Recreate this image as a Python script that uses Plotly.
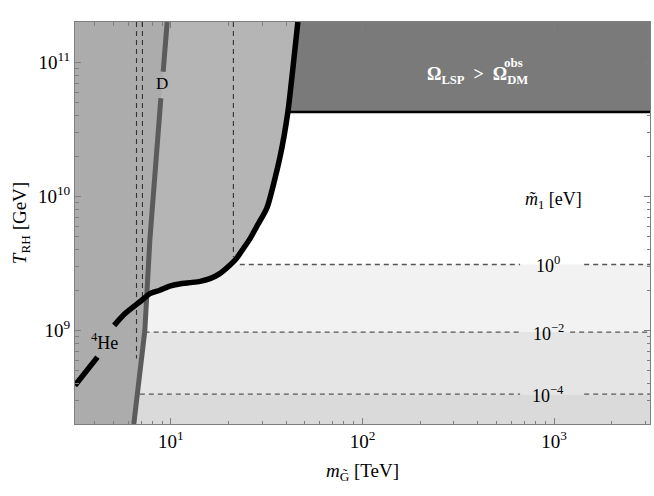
import numpy as np
import plotly.graph_objects as go

# ---------------- data ----------------
# thick black curve (gravitino bound), m in TeV, T in GeV
curve_m = [3.16, 4.14, 5.06, 5.75, 7.03, 7.77, 8.76, 9.88, 11.1, 12.6, 14.2, 16.0,
           18.0, 20.3, 22.0, 23.9, 25.9, 28.0, 31.7, 37.1, 40.8, 43.4, 46.0]
curve_T = [3.88e8, 6.31e8, 1.09e9, 1.33e9, 1.67e9, 1.88e9, 1.99e9, 2.14e9, 2.22e9,
           2.27e9, 2.32e9, 2.43e9, 2.65e9, 3.06e9, 3.44e9, 4.08e9, 4.84e9, 5.92e9,
           8.17e9, 1.96e10, 4.26e10, 9.2e10, 2.0e11]
curve_gap_after = 1          # label "4He" interrupts the curve after this point

# deuterium (D) line
d_m = [6.41, 7.32, 7.77, 8.58, 8.87, 9.12, 9.57]
d_T = [2.0e8, 1.0e9, 4.70e9, 2.86e10, 5.39e10, 8.51e10, 2.0e11]
d_gap_after = 4

# relic density bound
omega_T = 4.26e10
omega_m_start = 40.8

# m1-tilde contours: values [eV], horizontal level T, start m, vertical line m & bottom T
m1_labels = ["10<sup>0</sup>", "10<sup>−2</sup>", "10<sup>−4</sup>"]
m1_T = [3.1e9, 9.7e8, 3.34e8]
m1_hstart = [22.9, 7.3, 6.89]
m1_gap = [(664, 1434), (681, 1212), (664, 1434)]
vert_m = [6.62, 7.11, 21.2]
vert_Tbottom = [6.17e8, 1.73e9, 3.52e9]

x_tickvals = [10, 100, 1000]
x_ticktext = ["10<sup>1</sup>", "10<sup>2</sup>", "10<sup>3</sup>"]
y_tickvals = [1e9, 1e10, 1e11]
y_ticktext = ["10<sup>9</sup>", "10<sup>10</sup>", "10<sup>11</sup>"]

XMIN, XMAX = 10 ** 0.5, 10 ** 3.5
YMIN, YMAX = 2e8, 2e11

FONT = "Liberation Serif"
fig = go.Figure()


def poly(xs, ys, color):
    fig.add_trace(go.Scatter(x=xs, y=ys, mode="lines", fill="toself",
                             fillcolor=color, line=dict(width=0, color=color),
                             hoverinfo="skip", showlegend=False))


# bands (light greys)
band_bounds = [YMIN, m1_T[2], m1_T[1], m1_T[0]]
band_cols = ["#dadada", "#e5e5e5", "#f2f2f2"]
for i in range(3):
    lo, hi = band_bounds[i], band_bounds[i + 1]
    poly([XMIN, XMAX, XMAX, XMIN, XMIN], [lo, lo, hi, hi, lo], band_cols[i])

# region above the black curve
poly([XMIN] + curve_m + [XMIN, XMIN], [curve_T[0]] + curve_T + [YMAX, curve_T[0]], "#b5b5b5")
# region left of D line
poly([XMIN] + d_m + [XMIN, XMIN], [YMIN] + d_T + [YMAX, YMIN], "#acacac")
# overabundance region
i0 = curve_m.index(omega_m_start)
poly(curve_m[i0:] + [XMAX, XMAX, curve_m[i0]], curve_T[i0:] + [YMAX, omega_T, omega_T], "#7a7a7a")

dash = "5px,4px"
# vertical dashed lines
for m, tb in zip(vert_m, vert_Tbottom):
    fig.add_trace(go.Scatter(x=[m, m], y=[YMAX, tb], mode="lines",
                             line=dict(color="#333333", width=1.1, dash=dash),
                             hoverinfo="skip", showlegend=False))
# horizontal dashed lines with gap for labels
for T, xs, (g0, g1) in zip(m1_T, m1_hstart, m1_gap):
    fig.add_trace(go.Scatter(x=[xs, g0, None, g1, XMAX], y=[T, T, None, T, T], mode="lines",
                             line=dict(color="#555555", width=1.3, dash=dash),
                             hoverinfo="skip", showlegend=False, connectgaps=False))

# omega bound line
fig.add_trace(go.Scatter(x=[omega_m_start, XMAX], y=[omega_T, omega_T], mode="lines",
                         line=dict(color="black", width=2.5), hoverinfo="skip", showlegend=False))

# D line
dx = d_m[:d_gap_after + 1] + [None] + d_m[d_gap_after + 1:]
dy = d_T[:d_gap_after + 1] + [None] + d_T[d_gap_after + 1:]
fig.add_trace(go.Scatter(x=dx, y=dy, mode="lines", line=dict(color="#5b5b5b", width=5),
                         hoverinfo="skip", showlegend=False, connectgaps=False))

# black curve
cx = curve_m[:curve_gap_after + 1] + [None] + curve_m[curve_gap_after + 1:]
cy = curve_T[:curve_gap_after + 1] + [None] + curve_T[curve_gap_after + 1:]
fig.add_trace(go.Scatter(x=cx, y=cy, mode="lines",
                         line=dict(color="black", width=5.5, shape="spline", smoothing=0.6),
                         hoverinfo="skip", showlegend=False, connectgaps=False))

L = np.log10
ann = []
ann.append(dict(x=L(9.0), y=L(7.0e10), text="D", showarrow=False,
                font=dict(family=FONT, size=17, color="black")))
ann.append(dict(x=L(4.5), y=L(8.3e8), text="<sup>4</sup>He", showarrow=False,
                font=dict(family=FONT, size=18, color="black")))
ann.append(dict(x=2.60, y=10.905, text="<b>Ω<sub>LSP</sub>  >  Ω<sub>DM</sub></b>",
                showarrow=False, font=dict(family=FONT, size=18, color="white")))
ann.append(dict(x=2.79, y=11.0, text="<b>obs</b>", showarrow=False,
                font=dict(family=FONT, size=13, color="white")))
ann.append(dict(x=L(990), y=L(9.3e9), text="<i>m̃</i><sub>1</sub> [eV]", showarrow=False,
                font=dict(family=FONT, size=18, color="black")))
for lab, T in zip(m1_labels, m1_T):
    ann.append(dict(x=L(930), y=L(T), text=lab, showarrow=False,
                    font=dict(family=FONT, size=18, color="black")))
fig.update_layout(annotations=ann)

axis_common = dict(showline=True, mirror="ticks", linecolor="#7f7f7f", linewidth=1,
                   ticks="inside", ticklen=6, tickcolor="#7f7f7f", showgrid=False,
                   zeroline=False, automargin=False,
                   tickfont=dict(family=FONT, size=19, color="black"))
x_minor = [v * d for d in [10, 100, 1000] for v in [0.2, 0.3, 0.4, 0.5, 0.6, 0.7, 0.8, 0.9]]
x_minor = [v for v in x_minor if XMIN < v < XMAX] + [2000, 3000]
y_minor = sorted(set([v * d for d in [1e8, 1e9, 1e10] for v in range(2, 10)] + [2e11]))
y_minor = [v for v in y_minor if YMIN <= v <= YMAX]

fig.update_xaxes(type="log", range=[0.5, 3.5], tickvals=x_tickvals, ticktext=x_ticktext,
                 minor=dict(tickvals=x_minor, ticks="inside", ticklen=3.5, tickcolor="#7f7f7f"),
                 title=dict(text="<i>m</i><sub>G̃</sub> [TeV]", font=dict(family=FONT, size=19, color="black"),
                            standoff=12),
                 **axis_common)
fig.update_yaxes(type="log", range=[np.log10(YMIN), np.log10(YMAX)], tickvals=y_tickvals,
                 ticktext=y_ticktext,
                 minor=dict(tickvals=y_minor, ticks="inside", ticklen=3.5, tickcolor="#7f7f7f"),
                 title=dict(text="<i>T</i><sub>RH</sub> [GeV]", font=dict(family=FONT, size=19, color="black"),
                            standoff=6),
                 **axis_common)

fig.update_layout(width=654, height=496, margin=dict(l=75, r=4, t=22, b=72, autoexpand=False),
                  plot_bgcolor="white", paper_bgcolor="white", showlegend=False)

fig.write_html("out.html", config={"displayModeBar": False},
               post_script="document.body.style.margin='0';document.body.style.overflow='hidden';")
